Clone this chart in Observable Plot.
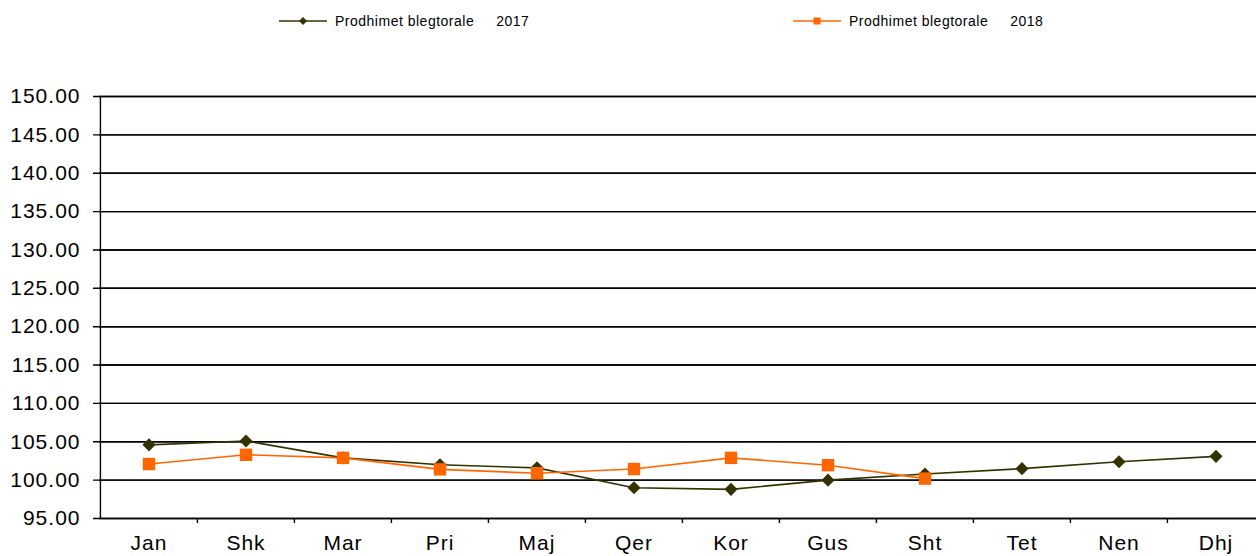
<!DOCTYPE html>
<html>
<head>
<meta charset="utf-8">
<script src="https://cdn.jsdelivr.net/npm/d3@7"></script>
<script src="https://cdn.jsdelivr.net/npm/@observablehq/plot@0.6"></script>
<style>
  html, body { margin: 0; padding: 0; background: #fff; overflow: hidden; width: 1256px; height: 556px; }
  body { font-family: "Liberation Sans", Arial, sans-serif; }
  #legend { position: relative; height: 40px; width: 1256px; font-size: 14px; letter-spacing: 0.5px; color: #000; }
  .item { position: absolute; top: 12px; height: 18px; display: flex; align-items: center; white-space: pre; }
  .item svg { margin-right: 8px; }
  #chart { width: 1265px; }
  #chart svg { display: block; max-width: none !important; width: 1265px; height: 516px; }
</style>
</head>
<body>
<div id="legend"></div>
<div id="chart"></div>
<script>
const months = ["Jan","Shk","Mar","Pri","Maj","Qer","Kor","Gus","Sht","Tet","Nen","Dhj"];
const values2017 = [104.6, 105.1, 102.9, 102.0, 101.6, 99.0, 98.8, 100.0, 100.8, 101.5, 102.4, 103.1];
const values2018 = [102.1, 103.3, 102.9, 101.4, 100.9, 101.45, 102.9, 101.95, 100.2];
const yTicks = [95, 100, 105, 110, 115, 120, 125, 130, 135, 140, 145, 150];
const seriesNames = ["Prodhimet blegtorale     2017", "Prodhimet blegtorale     2018"];
const colors = ["#333300", "#FF6600"];

const d2017 = months.map((m, i) => ({month: m, value: values2017[i]}));
const d2018 = values2018.map((v, i) => ({month: months[i], value: v}));

// legend
const legend = document.getElementById("legend");
const legendX = [279, 793];
seriesNames.forEach((name, i) => {
  const div = document.createElement("div");
  div.className = "item";
  div.style.left = legendX[i] + "px";
  const marker = i === 0
    ? `<path d="M24,5 L28,9 L24,13 L20,9 Z" fill="${colors[i]}"/>`
    : `<rect x="20.5" y="5.5" width="7" height="7" fill="${colors[i]}"/>`;
  div.innerHTML = `<svg width="48" height="18"><line x1="0" x2="48" y1="9" y2="9" stroke="${colors[i]}" stroke-width="1.5"/>${marker}</svg><span>${name}</span>`;
  legend.appendChild(div);
});

const W = 1265;
const bw = (W - 99) / months.length;

const chart = Plot.plot({
  width: W,
  height: 516,
  marginLeft: 99,
  marginRight: 0,
  marginTop: 56,
  marginBottom: 38,
  style: {fontFamily: "'Liberation Sans', Arial, sans-serif", background: "#fff", letterSpacing: "1px"},
  x: {type: "band", domain: months, padding: 0, axis: null},
  y: {domain: [95, 150], range: [478, 56], axis: null},
  marks: [
    Plot.ruleY(yTicks, {stroke: "#000", strokeWidth: 1.4}),
    Plot.ruleX([0], {x: () => months[0], dx: -bw / 2, y1: 95, y2: 150, stroke: "#000", strokeWidth: 1.4}),
    Plot.tickY(yTicks, {y: d => d, frameAnchor: "left", dx: -6, stroke: "#000", strokeWidth: 1.4}),
    Plot.text(yTicks, {y: d => d, text: d => d3.format(".2f")(d), frameAnchor: "left", dx: -19, textAnchor: "end", fontSize: 21, fill: "#000"}),
    Plot.ruleX(months.slice(1), {x: d => d, dx: -bw / 2, y1: 95, y2: 95 - 5 / 7.67, stroke: "#000", strokeWidth: 1.4}),
    Plot.text(months, {x: d => d, y: 95, dy: 25, text: d => d, fontSize: 21, fill: "#000", lineAnchor: "middle"}),
    Plot.line(d2017, {x: "month", y: "value", stroke: colors[0], strokeWidth: 1.6}),
    Plot.dot(d2017, {x: "month", y: "value", symbol: "diamond2", r: 5.9, fill: colors[0], stroke: "none"}),
    Plot.line(d2018, {x: "month", y: "value", stroke: colors[1], strokeWidth: 1.6}),
    Plot.dot(d2018, {x: "month", y: "value", symbol: "square", r: 7, fill: colors[1], stroke: "none"})
  ]
});
document.getElementById("chart").appendChild(chart);
</script>
</body>
</html>
